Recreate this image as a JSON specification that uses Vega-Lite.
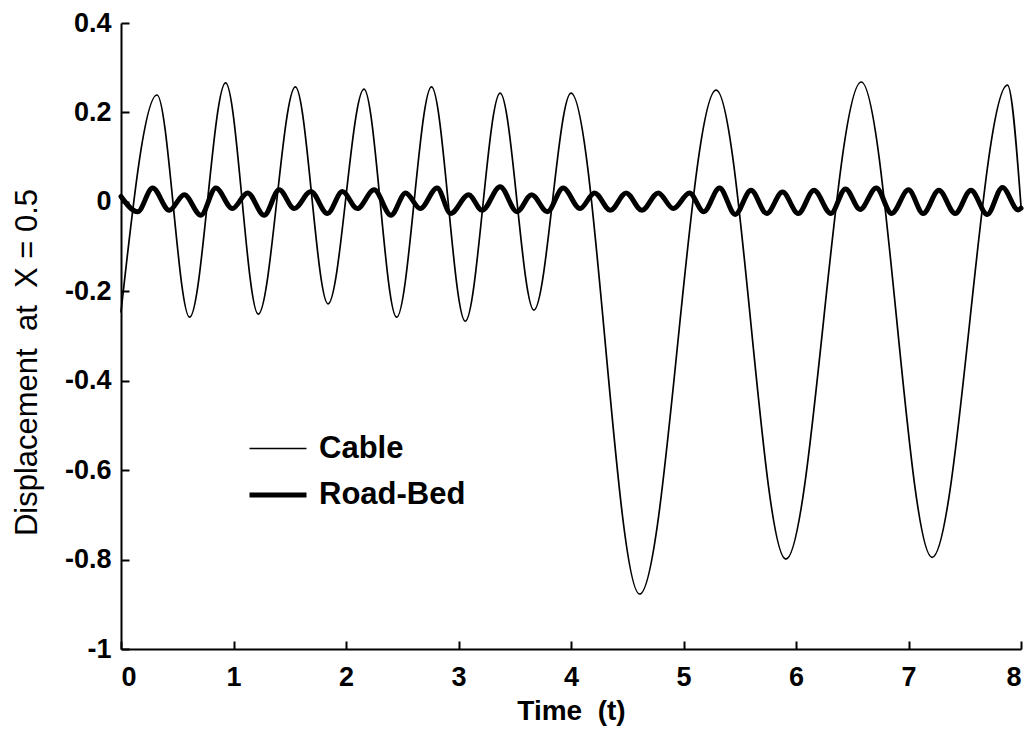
{
  "$schema": "https://vega.github.io/schema/vega-lite/v6.json",
  "width": 900,
  "height": 626,
  "autosize": {"type": "none"},
  "padding": {"left": 121, "top": 23, "right": 13, "bottom": 81},
  "background": "white",
  "config": {
    "view": {"stroke": null},
    "font": "Liberation Sans"
  },
  "data": {
    "values": [
      {"t": 0, "v": -0.246, "series": "Cable"},
      {"t": 0.32, "v": 0.239, "series": "Cable"},
      {"t": 0.61, "v": -0.258, "series": "Cable"},
      {"t": 0.93, "v": 0.266, "series": "Cable"},
      {"t": 1.22, "v": -0.251, "series": "Cable"},
      {"t": 1.55, "v": 0.257, "series": "Cable"},
      {"t": 1.84, "v": -0.228, "series": "Cable"},
      {"t": 2.16, "v": 0.252, "series": "Cable"},
      {"t": 2.45, "v": -0.258, "series": "Cable"},
      {"t": 2.76, "v": 0.257, "series": "Cable"},
      {"t": 3.06, "v": -0.267, "series": "Cable"},
      {"t": 3.37, "v": 0.243, "series": "Cable"},
      {"t": 3.67, "v": -0.242, "series": "Cable"},
      {"t": 4.0, "v": 0.243, "series": "Cable"},
      {"t": 4.61, "v": -0.877, "series": "Cable"},
      {"t": 5.29, "v": 0.25, "series": "Cable"},
      {"t": 5.91, "v": -0.799, "series": "Cable"},
      {"t": 6.58, "v": 0.268, "series": "Cable"},
      {"t": 7.21, "v": -0.795, "series": "Cable"},
      {"t": 7.88, "v": 0.261, "series": "Cable"},
      {"t": 8.0, "v": -0.01, "series": "Cable"},
      {"t": 0, "v": 0.012, "series": "Road-Bed"},
      {"t": 0.148, "v": -0.022, "series": "Road-Bed"},
      {"t": 0.281, "v": 0.031, "series": "Road-Bed"},
      {"t": 0.429, "v": -0.019, "series": "Road-Bed"},
      {"t": 0.562, "v": 0.016, "series": "Road-Bed"},
      {"t": 0.71, "v": -0.03, "series": "Road-Bed"},
      {"t": 0.843, "v": 0.031, "series": "Road-Bed"},
      {"t": 0.99, "v": -0.015, "series": "Road-Bed"},
      {"t": 1.125, "v": 0.02, "series": "Road-Bed"},
      {"t": 1.273, "v": -0.03, "series": "Road-Bed"},
      {"t": 1.406, "v": 0.027, "series": "Road-Bed"},
      {"t": 1.54, "v": -0.015, "series": "Road-Bed"},
      {"t": 1.687, "v": 0.023, "series": "Road-Bed"},
      {"t": 1.835, "v": -0.026, "series": "Road-Bed"},
      {"t": 1.968, "v": 0.023, "series": "Road-Bed"},
      {"t": 2.1, "v": -0.015, "series": "Road-Bed"},
      {"t": 2.25, "v": 0.027, "series": "Road-Bed"},
      {"t": 2.4, "v": -0.03, "series": "Road-Bed"},
      {"t": 2.53, "v": 0.02, "series": "Road-Bed"},
      {"t": 2.66, "v": -0.015, "series": "Road-Bed"},
      {"t": 2.81, "v": 0.031, "series": "Road-Bed"},
      {"t": 2.93, "v": -0.026, "series": "Road-Bed"},
      {"t": 3.09, "v": 0.016, "series": "Road-Bed"},
      {"t": 3.21, "v": -0.019, "series": "Road-Bed"},
      {"t": 3.37, "v": 0.034, "series": "Road-Bed"},
      {"t": 3.52, "v": -0.022, "series": "Road-Bed"},
      {"t": 3.65, "v": 0.016, "series": "Road-Bed"},
      {"t": 3.79, "v": -0.022, "series": "Road-Bed"},
      {"t": 3.93, "v": 0.031, "series": "Road-Bed"},
      {"t": 4.08, "v": -0.015, "series": "Road-Bed"},
      {"t": 4.21, "v": 0.02, "series": "Road-Bed"},
      {"t": 4.35, "v": -0.019, "series": "Road-Bed"},
      {"t": 4.49, "v": 0.02, "series": "Road-Bed"},
      {"t": 4.63, "v": -0.019, "series": "Road-Bed"},
      {"t": 4.775, "v": 0.02, "series": "Road-Bed"},
      {"t": 4.91, "v": -0.015, "series": "Road-Bed"},
      {"t": 5.053, "v": 0.02, "series": "Road-Bed"},
      {"t": 5.18, "v": -0.022, "series": "Road-Bed"},
      {"t": 5.32, "v": 0.031, "series": "Road-Bed"},
      {"t": 5.46, "v": -0.028, "series": "Road-Bed"},
      {"t": 5.6, "v": 0.026, "series": "Road-Bed"},
      {"t": 5.74, "v": -0.026, "series": "Road-Bed"},
      {"t": 5.88, "v": 0.022, "series": "Road-Bed"},
      {"t": 6.02, "v": -0.026, "series": "Road-Bed"},
      {"t": 6.16, "v": 0.026, "series": "Road-Bed"},
      {"t": 6.31, "v": -0.026, "series": "Road-Bed"},
      {"t": 6.44, "v": 0.029, "series": "Road-Bed"},
      {"t": 6.57, "v": -0.017, "series": "Road-Bed"},
      {"t": 6.714, "v": 0.031, "series": "Road-Bed"},
      {"t": 6.85, "v": -0.026, "series": "Road-Bed"},
      {"t": 7.0, "v": 0.027, "series": "Road-Bed"},
      {"t": 7.13, "v": -0.026, "series": "Road-Bed"},
      {"t": 7.27, "v": 0.026, "series": "Road-Bed"},
      {"t": 7.415, "v": -0.026, "series": "Road-Bed"},
      {"t": 7.555, "v": 0.026, "series": "Road-Bed"},
      {"t": 7.7, "v": -0.028, "series": "Road-Bed"},
      {"t": 7.835, "v": 0.032, "series": "Road-Bed"},
      {"t": 7.975, "v": -0.018, "series": "Road-Bed"},
      {"t": 8.0, "v": -0.014, "series": "Road-Bed"}
    ]
  },
  "mark": {"type": "line", "interpolate": "monotone", "color": "black", "strokeCap": "round", "strokeJoin": "round"},
  "encoding": {
    "x": {
      "field": "t",
      "type": "quantitative",
      "scale": {"domain": [0, 8], "nice": false},
      "axis": {
        "values": [0, 1, 2, 3, 4, 5, 6, 7, 8],
        "format": "d",
        "grid": false,
        "domainColor": "black",
        "domainWidth": 2,
        "tickColor": "black",
        "tickWidth": 2,
        "tickSize": -8,
        "labelFontSize": 27,
        "labelFontWeight": "bold",
        "labelColor": "black",
        "labelPadding": 23,
        "title": "Time \u00a0(t)",
        "titleFontSize": 28,
        "titleFontWeight": "bold",
        "titleColor": "black",
        "titlePadding": 7
      }
    },
    "y": {
      "field": "v",
      "type": "quantitative",
      "scale": {"domain": [-1, 0.4], "nice": false, "zero": false},
      "axis": {
        "values": [-1, -0.8, -0.6, -0.4, -0.2, 0, 0.2, 0.4],
        "labelExpr": "datum.value < 0 ? '-' + format(-datum.value, '~g') : format(datum.value, '~g')",
        "grid": false,
        "domainColor": "black",
        "domainWidth": 2,
        "tickColor": "black",
        "tickWidth": 2,
        "tickSize": -8,
        "labelFontSize": 27,
        "labelFontWeight": "bold",
        "labelColor": "black",
        "labelPadding": 18,
        "title": "Displacement \u00a0at \u00a0X = 0.5",
        "titleFontSize": 31,
        "titleFontWeight": "normal",
        "titleColor": "black",
        "titleAngle": -90,
        "titleX": -94,
        "titleY": 339,
        "titleAlign": "center",
        "titleBaseline": "middle"
      }
    },
    "detail": {"field": "series", "type": "nominal"},
    "strokeWidth": {
      "field": "series",
      "type": "nominal",
      "scale": {"domain": ["Cable", "Road-Bed"], "range": [1.7, 5]},
      "legend": {
        "orient": "none",
        "legendX": 126,
        "legendY": 396,
        "title": null,
        "symbolType": "stroke",
        "symbolSize": 3249,
        "symbolStrokeColor": "black",
        "labelFontSize": 31,
        "labelFontWeight": "bold",
        "labelColor": "black",
        "labelOffset": 10,
        "rowPadding": -13
      }
    }
  }
}
